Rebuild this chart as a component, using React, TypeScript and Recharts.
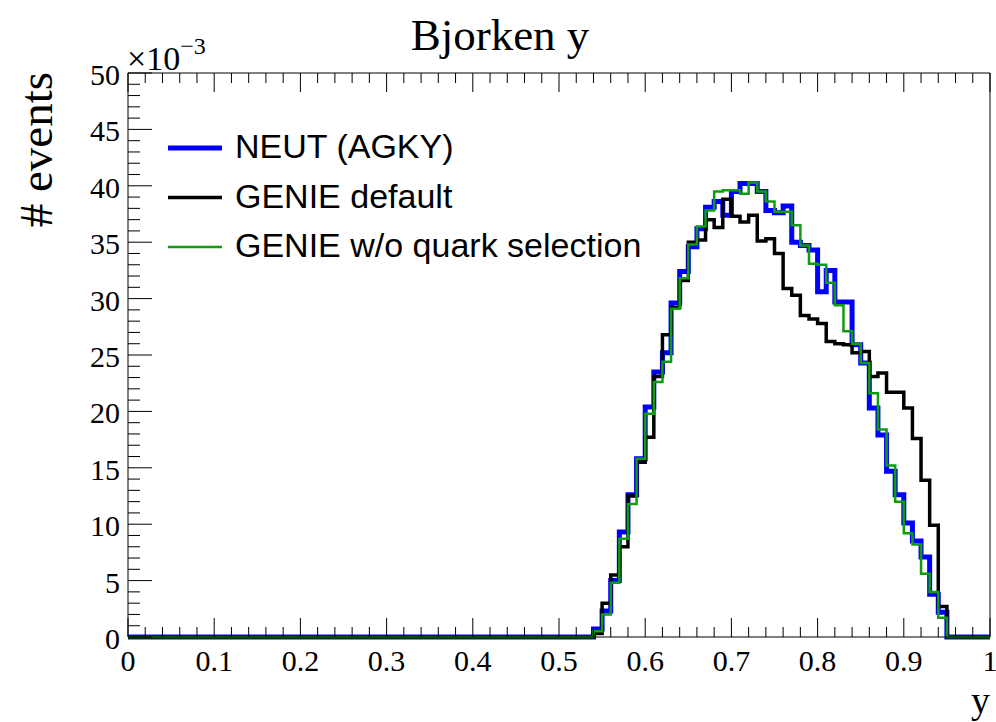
import React from "react";
import { LineChart, Line, XAxis, YAxis } from "recharts";

// Histogram bin contents (units of 1e-3), 100 bins of width 0.01 from y = 0 to 1
const neutAgky = [
  0, 0, 0, 0, 0, 0, 0, 0, 0, 0,
  0, 0, 0, 0, 0, 0, 0, 0, 0, 0,
  0, 0, 0, 0, 0, 0, 0, 0, 0, 0,
  0, 0, 0, 0, 0, 0, 0, 0, 0, 0,
  0, 0, 0, 0, 0, 0, 0, 0, 0, 0,
  0, 0, 0, 0, 0.7, 2.3, 5.0, 9.3, 12.6, 15.8,
  20.4, 23.5, 25.2, 29.6, 32.4, 34.6, 36.2, 38.1, 38.6, 37.4,
  39.5, 40.2, 40.2, 39.5, 37.8, 37.6, 38.2, 35.0, 34.7, 34.3,
  30.6, 32.5, 29.7, 29.7, 25.9, 24.3, 20.3, 17.9, 14.7, 12.6,
  10.1, 8.5, 7.1, 3.8, 2.2, 0, 0, 0, 0, 0,
];

const genieDefault = [
  0, 0, 0, 0, 0, 0, 0, 0, 0, 0,
  0, 0, 0, 0, 0, 0, 0, 0, 0, 0,
  0, 0, 0, 0, 0, 0, 0, 0, 0, 0,
  0, 0, 0, 0, 0, 0, 0, 0, 0, 0,
  0, 0, 0, 0, 0, 0, 0, 0, 0, 0,
  0, 0, 0, 0, 0.3, 3.0, 5.5, 8.0, 12.5, 15.5,
  17.7, 23.1, 26.8, 29.2, 31.6, 35.0, 35.2, 37.0, 36.3, 38.8,
  37.3, 36.8, 37.4, 35.1, 35.3, 34.0, 30.9, 30.3, 28.5, 28.2,
  27.8, 26.2, 26.0, 25.9, 25.2, 25.3, 23.1, 23.4, 21.7, 21.7,
  20.3, 17.6, 13.9, 9.9, 2.7, 0, 0, 0, 0, 0,
];

const genieNoQuarkSel = [
  0, 0, 0, 0, 0, 0, 0, 0, 0, 0,
  0, 0, 0, 0, 0, 0, 0, 0, 0, 0,
  0, 0, 0, 0, 0, 0, 0, 0, 0, 0,
  0, 0, 0, 0, 0, 0, 0, 0, 0, 0,
  0, 0, 0, 0, 0, 0, 0, 0, 0, 0,
  0, 0, 0, 0, 0.5, 2.0, 4.8, 8.7, 11.8, 15.8,
  19.8, 22.6, 24.4, 29.1, 31.8, 34.8, 36.4, 37.8, 39.5, 39.6,
  39.6, 39.3, 40.3, 39.5, 38.6, 37.7, 37.7, 36.5, 34.7, 33.1,
  33.0, 31.4, 29.4, 27.1, 26.0, 24.3, 21.6, 18.4, 15.2, 12.0,
  9.2, 8.2, 5.6, 4.0, 1.7, 0, 0, 0, 0, 0,
];

const binWidth = 0.01;

const xMajorTicks = [0, 0.1, 0.2, 0.3, 0.4, 0.5, 0.6, 0.7, 0.8, 0.9, 1];
const xMinorStep = 0.02;
const yMajorTicks = [0, 5, 10, 15, 20, 25, 30, 35, 40, 45, 50];
const yMinorStep = 1;

const legendItems = [
  { key: "neut", name: "NEUT (AGKY)", color: "#0000ff", width: 5 },
  { key: "genie", name: "GENIE default", color: "#000000", width: 3.5 },
  { key: "genieNoQ", name: "GENIE w/o quark selection", color: "#109c10", width: 2.5 },
];

const data = neutAgky.map((v, i) => ({
  x: Math.round(i * binWidth * 100) / 100,
  neut: v,
  genie: genieDefault[i],
  genieNoQ: genieNoQuarkSel[i],
}));
data.push({
  x: 1,
  neut: neutAgky[neutAgky.length - 1],
  genie: genieDefault[genieDefault.length - 1],
  genieNoQ: genieNoQuarkSel[genieNoQuarkSel.length - 1],
});

const xAllTicks: number[] = [];
for (let k = 0; k <= 50; k++) xAllTicks.push(Math.round(k * xMinorStep * 100) / 100);
const yAllTicks: number[] = [];
for (let k = 0; k <= 50; k++) yAllTicks.push(k * yMinorStep);

const isMajorX = (v: number) => xMajorTicks.some((t) => Math.abs(t - v) < 1e-6);
const isMajorY = (v: number) => yMajorTicks.some((t) => Math.abs(t - v) < 1e-6);
const fmtX = (v: number) => (v === 0 ? "0" : v === 1 ? "1" : v.toFixed(1));

const SERIF = "'Liberation Serif', 'DejaVu Serif', serif";
const SANS = "'Liberation Sans', Arial, sans-serif";

const XBottomTick = (props: any) => {
  const { x, y, payload } = props;
  const major = isMajorX(payload.value);
  return (
    <g>
      <line x1={x} x2={x} y1={y} y2={y - (major ? 19 : 10)} stroke="#000" strokeWidth={1} />
      {major && (
        <text x={x} y={y + 34} textAnchor="middle" fontFamily={SERIF} fontSize={30} fill="#000">
          {fmtX(payload.value)}
        </text>
      )}
    </g>
  );
};

const XTopTick = (props: any) => {
  const { x, y, payload } = props;
  const major = isMajorX(payload.value);
  return <line x1={x} x2={x} y1={y} y2={y + (major ? 19 : 10)} stroke="#000" strokeWidth={1} />;
};

const YLeftTick = (props: any) => {
  const { x, y, payload } = props;
  const major = isMajorY(payload.value);
  return (
    <g>
      <line x1={x} x2={x + (major ? 24 : 12)} y1={y} y2={y} stroke="#000" strokeWidth={1} />
      {major && (
        <text x={x - 8} y={y + 12} textAnchor="end" fontFamily={SERIF} fontSize={30} fill="#000">
          {payload.value}
        </text>
      )}
    </g>
  );
};

const YRightTick = (props: any) => {
  const { x, y, payload } = props;
  const major = isMajorY(payload.value);
  return <line x1={x} x2={x - (major ? 24 : 12)} y1={y} y2={y} stroke="#000" strokeWidth={1} />;
};

export default function App() {
  return (
    <div style={{ position: "absolute", left: 0, top: 0, width: 996, height: 722, background: "#fff" }}>
      <LineChart
        width={996}
        height={722}
        data={data}
        margin={{ top: 72, right: 5, bottom: 5, left: 8 }}
      >
        <XAxis
          xAxisId="b"
          dataKey="x"
          type="number"
          domain={[0, 1]}
          ticks={xAllTicks}
          interval={0}
          orientation="bottom"
          height={80}
          tickSize={0}
          tickMargin={0}
          tickLine={false}
          tick={<XBottomTick />}
          axisLine={{ stroke: "#000", strokeWidth: 1 }}
          allowDecimals
        />
        <XAxis
          xAxisId="t"
          dataKey="x"
          type="number"
          domain={[0, 1]}
          ticks={xAllTicks}
          interval={0}
          orientation="top"
          height={1}
          tickSize={0}
          tickMargin={0}
          tickLine={false}
          tick={<XTopTick />}
          axisLine={{ stroke: "#000", strokeWidth: 1 }}
        />
        <YAxis
          yAxisId="l"
          type="number"
          domain={[0, 50]}
          ticks={yAllTicks}
          interval={0}
          orientation="left"
          width={120}
          tickSize={0}
          tickMargin={0}
          tickLine={false}
          tick={<YLeftTick />}
          axisLine={{ stroke: "#000", strokeWidth: 1 }}
        />
        <YAxis
          yAxisId="r"
          type="number"
          domain={[0, 50]}
          ticks={yAllTicks}
          interval={0}
          orientation="right"
          width={1}
          tickSize={0}
          tickMargin={0}
          tickLine={false}
          tick={<YRightTick />}
          axisLine={{ stroke: "#000", strokeWidth: 1 }}
        />
        {legendItems.map((it) => (
          <Line
            key={it.key}
            xAxisId="b"
            yAxisId="l"
            type="stepAfter"
            dataKey={it.key}
            name={it.name}
            stroke={it.color}
            strokeWidth={it.width}
            dot={false}
            activeDot={false}
            isAnimationActive={false}
          />
        ))}
      </LineChart>
      <svg
        width={996}
        height={722}
        style={{ position: "absolute", left: 0, top: 0, pointerEvents: "none" }}
      >
        <text x={500} y={50} textAnchor="middle" fontFamily={SERIF} fontSize={45} fill="#000">
          Bjorken y
        </text>
        <text
          x={52}
          y={72}
          transform="rotate(-90, 52, 72)"
          textAnchor="end"
          fontFamily={SERIF}
          fontSize={47}
          fill="#000"
        >
          # events
        </text>
        <text x={127} y={70} fontFamily={SERIF} fontSize={34} fill="#000">
          ×10
          <tspan dy={-16} fontSize={24}>−3</tspan>
        </text>
        <text x={990} y={713} textAnchor="end" fontFamily={SERIF} fontSize={38} fill="#000">
          y
        </text>
        {legendItems.map((it, i) => (
          <g key={it.key}>
            <line
              x1={168}
              x2={222}
              y1={148 + i * 49.5}
              y2={148 + i * 49.5}
              stroke={it.color}
              strokeWidth={it.width}
            />
            <text x={235} y={158 + i * 49.5} fontFamily={SANS} fontSize={34} fill="#000">
              {it.name}
            </text>
          </g>
        ))}
      </svg>
    </div>
  );
}
